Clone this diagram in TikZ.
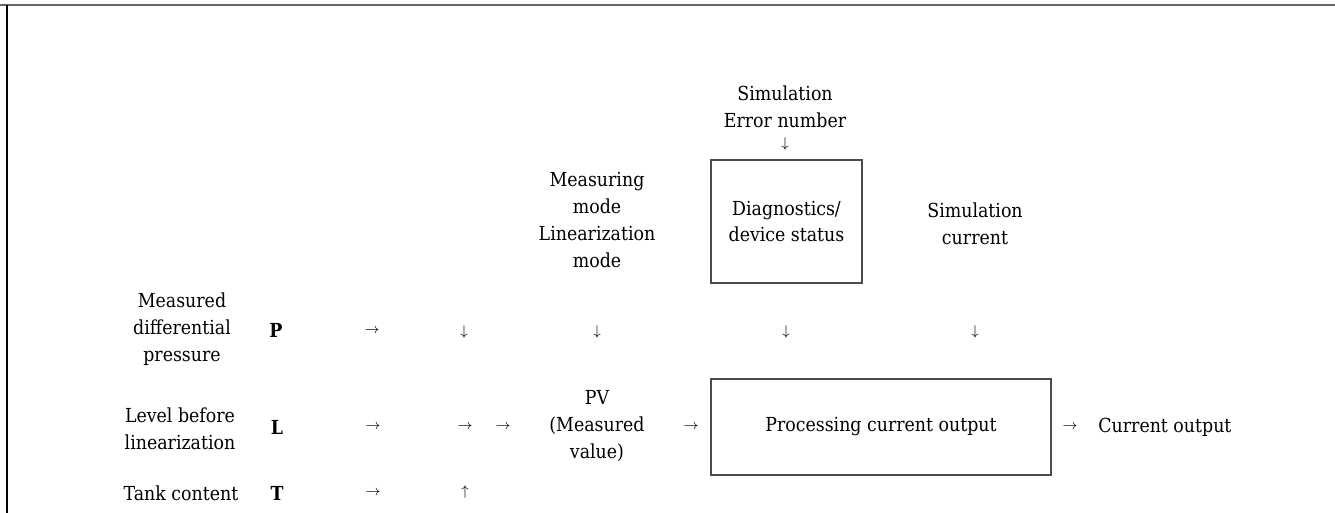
\documentclass[tikz,border=0pt]{standalone}
\usepackage{fontspec}
\setmainfont{DejaVu Serif Condensed}
\newcommand{\arrR}{$\rightarrow$}
\newcommand{\arrD}{$\downarrow$}
\newcommand{\arrU}{$\uparrow$}
\begin{document}
\begin{tikzpicture}[
    lbl/.style={align=center, inner sep=0pt, text=black, font=\fontsize{11}{15.3}\selectfont},
    key/.style={inner sep=0pt, text=black, font=\fontsize{11}{15.3}\selectfont\bfseries},
    arr/.style={inner sep=0pt, text=black, font=\fontsize{8.5}{9}\selectfont},
    blk/.style={draw=black!70, line width=0.6pt, align=center, inner sep=0pt, text=black, font=\fontsize{11}{15.3}\selectfont}
  ]
    \useasboundingbox (0,0) rectangle (26.7,10.26);
    \coordinate (TL) at (0,10.16);
    \coordinate (TR) at (26.7,10.16);
    \coordinate (LT) at (0.14,10.16);
    \coordinate (LB) at (0.14,0);
    \draw[black!60, line width=1.2pt] (TL) -- (TR);
    \draw[black, line width=0.8pt] (LT) -- (LB);
    % top inputs
    \node (simerr) at (15.70,8.13) [lbl] {Simulation\\Error number};
    \node (d0) at (15.70,7.38) [arr] {\arrD};
    \node (diag) at (15.73,5.83) [blk, minimum width=3.02cm, minimum height=2.46cm] {Diagnostics/\\device status};
    \node (mode) at (11.94,5.86) [lbl] {Measuring\\mode\\Linearization\\mode};
    \node (simcur) at (19.50,5.78) [lbl] {Simulation\\current};
    % row P
    \node (pl) at (3.64,3.68) [lbl] {Measured\\differential\\pressure};
    \node (P) at (5.52,3.66) [key] {P};
    \node (p1) at (7.44,3.64) [arr] {\arrR};
    \node (p2) at (9.28,3.62) [arr] {\arrD};
    \node (p3) at (11.94,3.62) [arr] {\arrD};
    \node (p4) at (15.72,3.62) [arr] {\arrD};
    \node (p5) at (19.50,3.62) [arr] {\arrD};
    % row L
    \node (ll) at (3.60,1.69) [lbl] {Level before\\linearization};
    \node (L) at (5.54,1.72) [key] {L};
    \node (l1) at (7.46,1.72) [arr] {\arrR};
    \node (l2) at (9.30,1.72) [arr] {\arrR};
    \node (l3) at (10.06,1.72) [arr] {\arrR};
    \node (pv) at (11.94,1.74) [lbl] {PV\\(Measured\\value)};
    \node (l4) at (13.82,1.72) [arr] {\arrR};
    \node (proc) at (17.62,1.72) [blk, minimum width=6.8cm, minimum height=1.92cm] {Processing current output};
    \node (l5) at (21.40,1.72) [arr] {\arrR};
    \node (out) at (21.96,1.72) [lbl, anchor=west] {Current output};
    % row T
    \node (tl) at (3.62,0.40) [lbl] {Tank content};
    \node (T) at (5.54,0.40) [key] {T};
    \node (t1) at (7.46,0.40) [arr] {\arrR};
    \node (t2) at (9.30,0.42) [arr] {\arrU};
\end{tikzpicture}
\end{document}
